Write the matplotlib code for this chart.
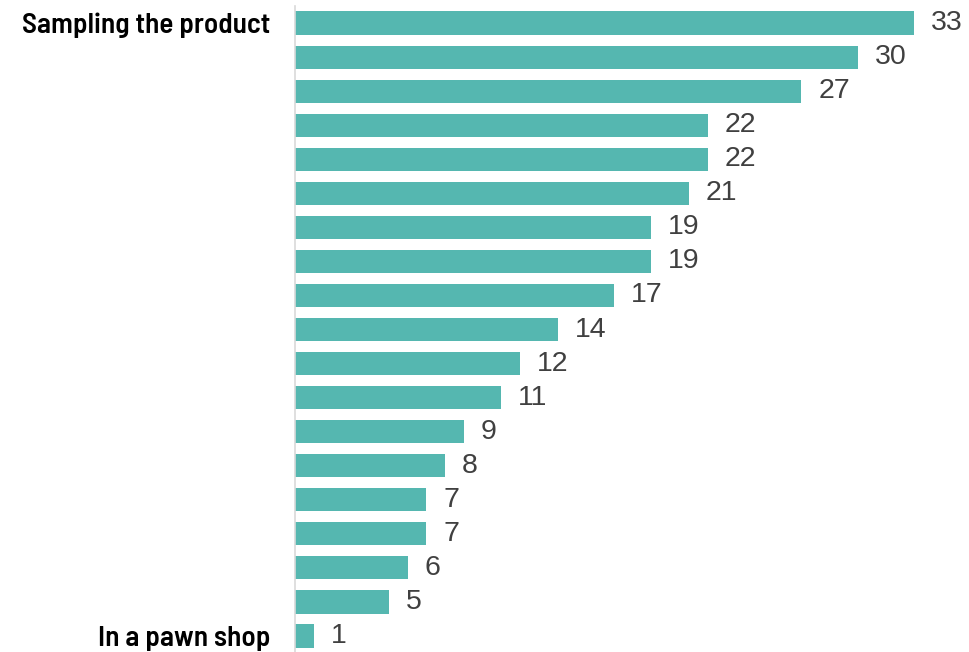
import matplotlib.pyplot as plt

# one row per answer, top to bottom; only the first and last are named
labels = ["Sampling the product"] + [""] * 17 + ["In a pawn shop"]
values = [33, 30, 27, 22, 22, 21, 19, 19, 17, 14, 12, 11, 9, 8, 7, 7, 6, 5, 1]

label_fonts = ["Barlow Semi Condensed", "Liberation Sans"]

fig = plt.figure(figsize=(9.69, 6.52), dpi=100)
ax = fig.add_axes([295 / 969, 0, 674 / 969, 646 / 652])

rows = list(range(len(values)))
ax.barh(rows, values, height=0.68, color="#55b7b0")

for y, v in zip(rows, values):
    ax.text(v + 0.9, y, str(v), va="center", ha="left", fontsize=20.5,
            color="#404040", family="Liberation Sans")

ax.set_xlim(0, 35.93)
ax.set_ylim(18.47, -0.5)
ax.set_yticks(rows)
ax.set_yticklabels(labels, fontsize=21, fontweight="semibold", family=label_fonts)
ax.tick_params(axis="y", length=0, pad=18)
ax.set_xticks([])

for side in ["top", "right", "bottom"]:
    ax.spines[side].set_visible(False)
ax.spines["left"].set_color("#d9d9d9")
ax.spines["left"].set_linewidth(1.2)

fig.savefig("out.png", dpi=100)
